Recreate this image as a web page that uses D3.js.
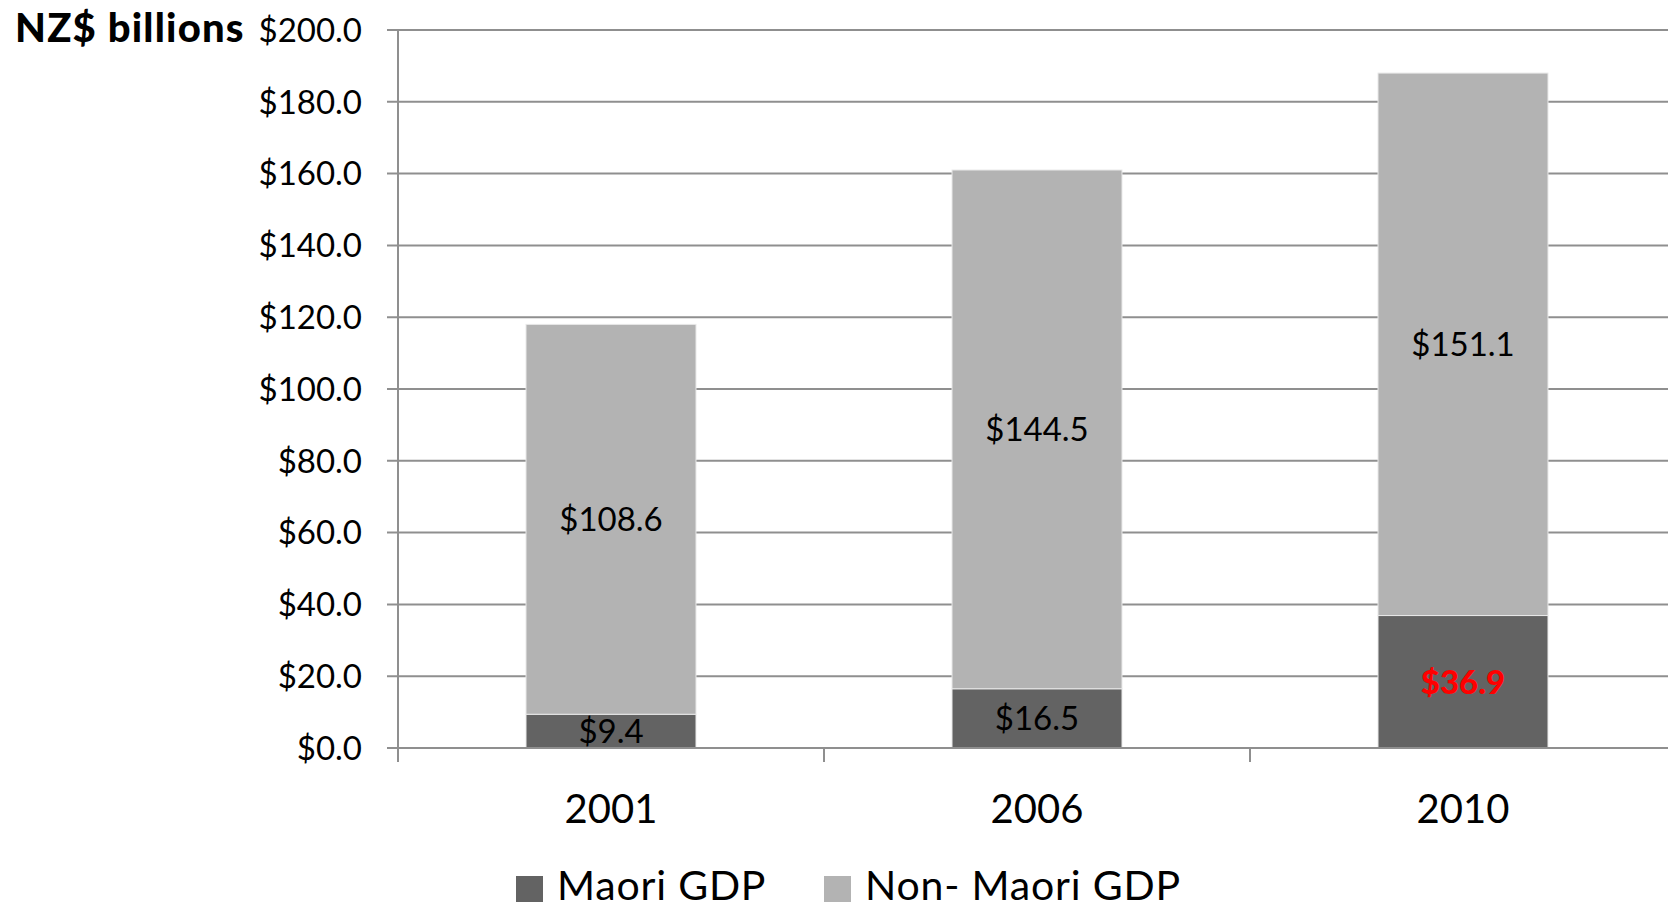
<!DOCTYPE html>
<html>
<head>
<meta charset="utf-8">
<script src="https://cdn.jsdelivr.net/npm/d3@7"></script>
<style>
  html, body { margin: 0; padding: 0; background: #fff; }
  svg { display: block; }
  text { font-family: Lato, "Open Sans", sans-serif; fill: #000; }
</style>
</head>
<body>
<svg id="chart" width="1668" height="909"></svg>
<script>
const years = ["2001", "2006", "2010"];
const maoriGDP = [9.4, 16.5, 36.9];
const nonMaoriGDP = [108.6, 144.5, 151.1];
const yTicks = [0, 20, 40, 60, 80, 100, 120, 140, 160, 180, 200];
const seriesNames = ["Maori GDP", "Non- Maori GDP"];
const seriesColors = ["#636363", "#b3b3b3"];
const yTitle = "NZ$ billions";

(function () {
const svg = d3.select("#chart");
const W = 1668;
const pLeft = 398, pTop = 30, pBottom = 748, pRight = 1676;

const y = d3.scaleLinear().domain([0, 200]).range([pBottom, pTop]);
const x = d3.scaleBand().domain(years).range([pLeft, pRight])
  .paddingInner(0.601).paddingOuter(0.3005);

const rows = years.map((yr, i) => ({ year: yr, maori: maoriGDP[i], non: nonMaoriGDP[i] }));
const stack = d3.stack().keys(["maori", "non"])(rows);

const fmt = v => "$" + d3.format(".1f")(v);

// gridlines
svg.append("g").selectAll("line").data(yTicks).join("line")
  .attr("x1", pLeft - 11).attr("x2", W)
  .attr("y1", d => y(d)).attr("y2", d => y(d))
  .attr("stroke", "#8f8f8f").attr("stroke-width", 2);

// y axis line
svg.append("line").attr("x1", pLeft).attr("x2", pLeft)
  .attr("y1", y(200)).attr("y2", pBottom + 14)
  .attr("stroke", "#8f8f8f").attr("stroke-width", 2);

// x category boundary ticks
const step = x.step();
const bounds = [1, 2].map(i => pLeft + i * step);
svg.append("g").selectAll("line").data(bounds).join("line")
  .attr("x1", d => d).attr("x2", d => d)
  .attr("y1", pBottom).attr("y2", pBottom + 14)
  .attr("stroke", "#8f8f8f").attr("stroke-width", 2);

// bars
stack.forEach((layer, si) => {
  svg.append("g").selectAll("rect").data(layer).join("rect")
    .attr("x", d => x(d.data.year))
    .attr("width", x.bandwidth())
    .attr("y", d => y(d[1]))
    .attr("height", d => y(d[0]) - y(d[1]))
    .attr("fill", seriesColors[si])
    .attr("stroke", "#e8e8e8").attr("stroke-width", 1);
});

// redraw baseline over bars
svg.append("line").attr("x1", pLeft - 11).attr("x2", W)
  .attr("y1", pBottom).attr("y2", pBottom)
  .attr("stroke", "#8f8f8f").attr("stroke-width", 2);

// bar labels
stack.forEach((layer, si) => {
  svg.append("g").selectAll("text").data(layer).join("text")
    .attr("x", d => x(d.data.year) + x.bandwidth() / 2)
    .attr("y", d => (y(d[0]) + y(d[1])) / 2)
    .attr("dy", "0.36em")
    .attr("text-anchor", "middle")
    .style("font-size", "33px")
    .style("font-weight", (d, i) => (si === 0 && i === 2) ? "900" : "400")
    .style("fill", (d, i) => (si === 0 && i === 2) ? "#ff0000" : "#000")
    .text(d => fmt(d[1] - d[0]));
});

// y tick labels
svg.append("g").selectAll("text").data(yTicks).join("text")
  .attr("x", 362).attr("y", d => y(d)).attr("dy", "0.36em")
  .attr("text-anchor", "end").style("font-size", "33px")
  .text(d => fmt(d));

// y title
svg.append("text").attr("x", 15).attr("y", 42)
  .style("font-size", "40px").style("font-weight", "900")
  .style("letter-spacing", "1.2px")
  .text(yTitle);

// x labels
svg.append("g").selectAll("text").data(years).join("text")
  .attr("x", d => x(d) + x.bandwidth() / 2).attr("y", 823)
  .attr("text-anchor", "middle").style("font-size", "40px")
  .text(d => d);

// legend
const legX = [516, 824];
const lg = svg.append("g").selectAll("g").data(seriesNames).join("g")
  .attr("transform", (d, i) => `translate(${legX[i]},876)`);
lg.append("rect").attr("width", 27).attr("height", 26)
  .attr("fill", (d, i) => seriesColors[i]);
lg.append("text").attr("x", 41).attr("y", 24)
  .style("font-size", "41px").style("letter-spacing", "0.8px").text(d => d);
})();
</script>
</body>
</html>
